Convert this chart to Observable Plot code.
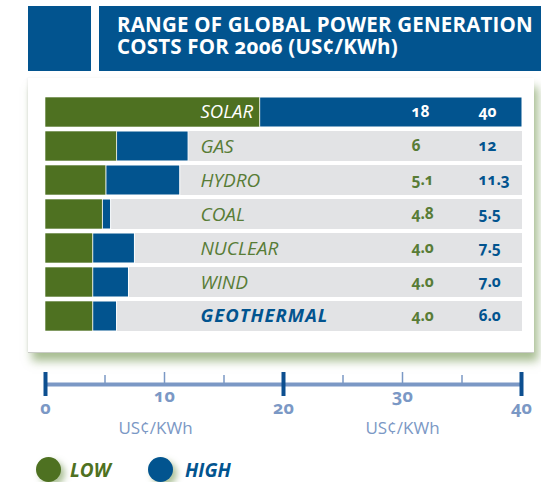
<!DOCTYPE html>
<html>
<head>
<meta charset="utf-8">
<script src="https://cdn.jsdelivr.net/npm/d3@7"></script>
<script src="https://cdn.jsdelivr.net/npm/@observablehq/plot@0.6"></script>
<style>
  html, body { margin: 0; padding: 0; background: #fff; }
  #page { position: relative; width: 541px; height: 482px; overflow: hidden; font-family: "Open Sans", sans-serif; }
  .blue { position: absolute; background: #02548f; }
  .tline { position: absolute; left: 117px; color: #fff; font-weight: 700; font-size: 20.5px; line-height: 21px; letter-spacing: 0.2px; font-variant-numeric: oldstyle-nums; white-space: nowrap; }
  #card { position: absolute; left: 28px; top: 78px; width: 506px; height: 274px; background: #fff;
          box-shadow: 0 1px 0 #c9cbc6, 4px 9px 9px rgba(95,135,55,0.55), -1px 0 2px rgba(0,0,0,0.06); }
  #bars { position: absolute; left: 0; top: 88px; }
  #axis { position: absolute; left: 0; top: 360px; }
  #legend { position: absolute; left: 0; top: 456px; width: 541px; height: 26px; }
  .dot { position: absolute; top: 1px; width: 25px; height: 25px; border-radius: 50%; box-shadow: 4px 4px 6px rgba(95,135,55,0.5); }
  .lab { position: absolute; top: 1px; font-weight: 700; font-style: italic; font-size: 19px; line-height: 26px; }
</style>
</head>
<body>
<div id="page">
  <div class="blue" style="left:28px;top:6px;width:63px;height:65px"></div>
  <div class="blue" style="left:99px;top:6px;width:442px;height:65px"></div>
  <div class="tline" style="top:14px">RANGE OF GLOBAL POWER GENERATION</div>
  <div class="tline" style="top:36px">COSTS FOR 2006 (US¢/KWh)</div>
  <div id="card"></div>
  <div id="bars"></div>
  <div id="axis"></div>
  <div id="legend">
    <div class="dot" style="left:36px;background:#4e7121"></div>
    <div class="lab" style="left:70px;color:#4e7121">LOW</div>
    <div class="dot" style="left:148px;background:#02548f"></div>
    <div class="lab" style="left:185px;color:#02548f">HIGH</div>
  </div>
</div>
<script>
// ---- data ----
const sources   = ["SOLAR", "GAS", "HYDRO", "COAL", "NUCLEAR", "WIND", "GEOTHERMAL"];
const lowCost   = [18, 6, 5.1, 4.8, 4.0, 4.0, 4.0];
const highCost  = [40, 12, 11.3, 5.5, 7.5, 7.0, 6.0];
const lowText   = ["18", "6", "5.1", "4.8", "4.0", "4.0", "4.0"];
const highText  = ["40", "12", "11.3", "5.5", "7.5", "7.0", "6.0"];
const xDomain   = [0, 40];
const majorTicks = [0, 20, 40];
const midTicks   = [10, 30];
const minorTicks = [5, 15, 25, 35];
const unitLabel  = "US¢/KWh";

const GREEN = "#4e7121", BLUE = "#02548f", ROW = "#e2e3e5", LIGHT = "#7b98c5", DARK = "#0d4f90", TXTGREEN = "#587c36";

const rows = sources.map((s, i) => ({name: s, low: lowCost[i], high: highCost[i], lowT: lowText[i], highT: highText[i]}));
const isSolar = d => d.name === "SOLAR";
const isGeo = d => d.name === "GEOTHERMAL";
const isMid = d => !isSolar(d) && !isGeo(d);

const bars = Plot.plot({
  width: 541, height: 249,
  marginTop: 7, marginBottom: 3, marginLeft: 45, marginRight: 19,
  x: {domain: xDomain, axis: null},
  y: {domain: sources, axis: null, paddingInner: 0.107, paddingOuter: 0},
  style: {fontFamily: "Open Sans, sans-serif", fontVariantNumeric: "oldstyle-nums", background: "transparent"},
  marks: [
    Plot.barX(rows, {y: "name", x1: xDomain[0], x2: xDomain[1], fill: ROW}),
    Plot.barX(rows, {y: "name", x1: "low", x2: "high", fill: BLUE, stroke: "#fff", strokeWidth: 1}),
    Plot.barX(rows, {y: "name", x1: 0, x2: "low", fill: GREEN, stroke: "#fff", strokeWidth: 0.6}),
    // category names
    Plot.text(rows, {filter: isSolar, y: "name", text: "name", frameAnchor: "left", dx: 155, textAnchor: "start", fill: "#fff", fontStyle: "italic", fontSize: 18.5}),
    Plot.text(rows, {filter: isMid, y: "name", text: "name", frameAnchor: "left", dx: 155, textAnchor: "start", fill: TXTGREEN, fontStyle: "italic", fontSize: 19}),
    Plot.text(rows, {filter: isGeo, y: "name", text: "name", frameAnchor: "left", dx: 155, textAnchor: "start", fill: BLUE, fontStyle: "italic", fontWeight: 700, fontSize: 18.5}),
    // values
    Plot.text(rows, {y: "name", text: "lowT", frameAnchor: "right", dx: -111, textAnchor: "start", fill: d => isSolar(d) ? "#fff" : TXTGREEN, fontWeight: 700, fontSize: 15.5}),
    Plot.text(rows, {y: "name", text: "highT", frameAnchor: "right", dx: -44, textAnchor: "start", fill: d => isSolar(d) ? "#fff" : BLUE, fontWeight: 700, fontSize: 15.5})
  ]
});
d3.select(bars).selectAll("text").filter(function () { return this.textContent === "GEOTHERMAL"; })
  .style("letter-spacing", "1px");
document.getElementById("bars").appendChild(bars);

const axis = Plot.plot({
  width: 541, height: 80,
  marginTop: 0, marginBottom: 0, marginLeft: 45, marginRight: 20,
  x: {domain: xDomain, axis: null},
  y: {type: "identity", axis: null},
  style: {fontFamily: "Open Sans, sans-serif", fontVariantNumeric: "oldstyle-nums", background: "transparent"},
  marks: [
    Plot.ruleY([24], {x1: xDomain[0], x2: xDomain[1], stroke: LIGHT, strokeWidth: 4}),
    Plot.ruleX(minorTicks, {x: d => d, y1: 15, y2: 24, stroke: LIGHT, strokeWidth: 1.5}),
    Plot.ruleX(midTicks, {x: d => d, y1: 12, y2: 24, stroke: LIGHT, strokeWidth: 1.5}),
    Plot.ruleX(majorTicks, {x: d => d, y1: 12, y2: 36, stroke: DARK, strokeWidth: 4}),
    Plot.text(majorTicks, {x: d => d, y: 48, text: d => String(d), fill: LIGHT, fontWeight: 700, fontSize: 18}),
    Plot.text(midTicks, {x: d => d, y: 36, text: d => String(d), fill: LIGHT, fontWeight: 700, fontSize: 18}),
    Plot.text([midTicks[0]], {x: d => d, y: 68, dx: -9, text: () => unitLabel, fill: LIGHT, fontSize: 17}),
    Plot.text([midTicks[1]], {x: d => d, y: 68, text: () => unitLabel, fill: LIGHT, fontSize: 17})
  ]
});
document.getElementById("axis").appendChild(axis);
</script>
</body>
</html>
